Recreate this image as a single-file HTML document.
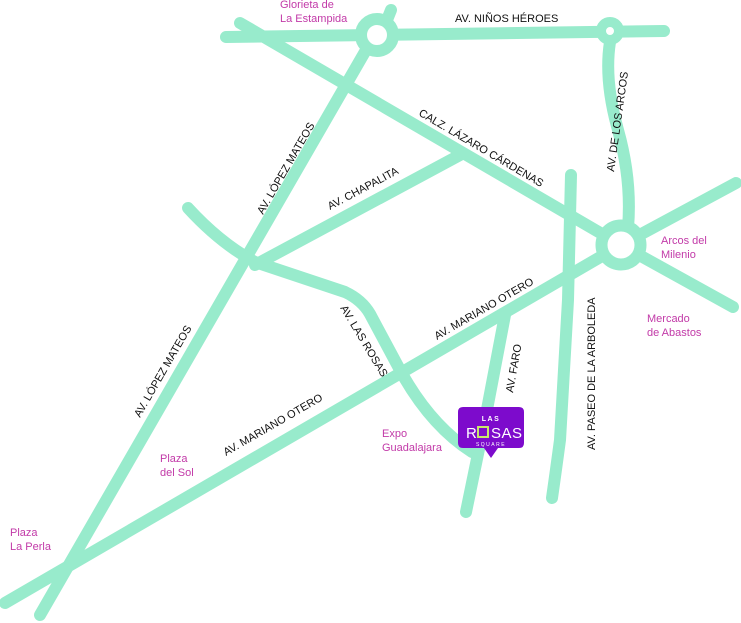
<!DOCTYPE html>
<html><head><style>
body{margin:0;background:#fff;}
svg{display:block;font-family:"Liberation Sans",sans-serif;}
.r{fill:none;stroke:#98ebcc;stroke-width:12;stroke-linecap:round;stroke-linejoin:round;}
.l{font-size:11px;fill:#111;}
.p{font-size:11px;fill:#c23aa8;}
</style></head><body>
<svg width="741" height="623" viewBox="0 0 741 623">
<path class="r" d="M226 37 L664 31"/>
<path class="r" d="M391 10 L385 25"/>
<path class="r" d="M240 23 L621 245"/>
<path class="r" d="M366 50 L40 615"/>
<path class="r" d="M460 155 L255 265"/>
<path class="r" d="M188 208 Q220 243 255 262 L345 292 Q362 300 370 314 L400 370 Q430 425 472 452"/>
<path class="r" d="M505 315 L485 420 L466 512"/>
<path class="r" d="M5 603 L621 245"/>
<path class="r" d="M610 42 Q604 80 618 130 Q632 180 628 228"/>
<path class="r" d="M571 175 L568 300 L560 440 Q556 470 552 498"/>
<path class="r" d="M621 245 L736 183"/>
<path class="r" d="M621 245 L733 307"/>
<circle cx="377" cy="35" r="16" fill="#fff" stroke="#98ebcc" stroke-width="12"/>
<circle cx="610" cy="31" r="9" fill="#fff" stroke="#98ebcc" stroke-width="10"/>
<circle cx="621" cy="245" r="19.5" fill="#fff" stroke="#98ebcc" stroke-width="12"/>
<text class="l" x="455" y="22">AV. NIÑOS HÉROES</text>
<text class="l" transform="translate(418,115) rotate(30.5)">CALZ. LÁZARO CÁRDENAS</text>
<text class="l" transform="translate(614,172) rotate(-82)">AV. DE LOS ARCOS</text>
<text class="l" transform="translate(263,215) rotate(-60)">AV. LÓPEZ MATEOS</text>
<text class="l" transform="translate(330,210) rotate(-28)">AV. CHAPALITA</text>
<text class="l" transform="translate(340,308) rotate(59)">AV. LAS ROSAS</text>
<text class="l" transform="translate(437,340) rotate(-30)">AV. MARIANO OTERO</text>
<text class="l" transform="translate(513,393) rotate(-80)">AV. FARO</text>
<text class="l" transform="translate(595,450) rotate(-90)">AV. PASEO DE LA ARBOLEDA</text>
<text class="l" transform="translate(140,418) rotate(-60)">AV. LÓPEZ MATEOS</text>
<text class="l" transform="translate(226,456) rotate(-30)">AV. MARIANO OTERO</text>
<text class="p" x="280" y="8">Glorieta de</text>
<text class="p" x="280" y="22">La Estampida</text>
<text class="p" x="661" y="244">Arcos del</text>
<text class="p" x="661" y="258">Milenio</text>
<text class="p" x="647" y="322">Mercado</text>
<text class="p" x="647" y="336">de Abastos</text>
<text class="p" x="382" y="437">Expo</text>
<text class="p" x="382" y="451">Guadalajara</text>
<text class="p" x="160" y="462">Plaza</text>
<text class="p" x="160" y="476">del Sol</text>
<text class="p" x="10" y="536">Plaza</text>
<text class="p" x="10" y="550">La Perla</text>
<path d="M463 407 H519 Q524 407 524 412 V443 Q524 448 519 448 H498 L491 458 L484 448 H463 Q458 448 458 443 V412 Q458 407 463 407Z" fill="#7d0bcc"/>
<text x="491" y="421" text-anchor="middle" fill="#fff" font-size="7" font-weight="bold" letter-spacing="1.5">LAS</text>
<text x="466" y="438" fill="#fff" font-size="15">R</text>
<rect x="478" y="427" width="10" height="10" fill="none" stroke="#c8e86a" stroke-width="2"/>
<text x="491" y="438" fill="#fff" font-size="15" letter-spacing="0.5">SAS</text>
<text x="491" y="446" text-anchor="middle" fill="#fff" font-size="5" letter-spacing="1.5">SQUARE</text>
</svg>
</body></html>
